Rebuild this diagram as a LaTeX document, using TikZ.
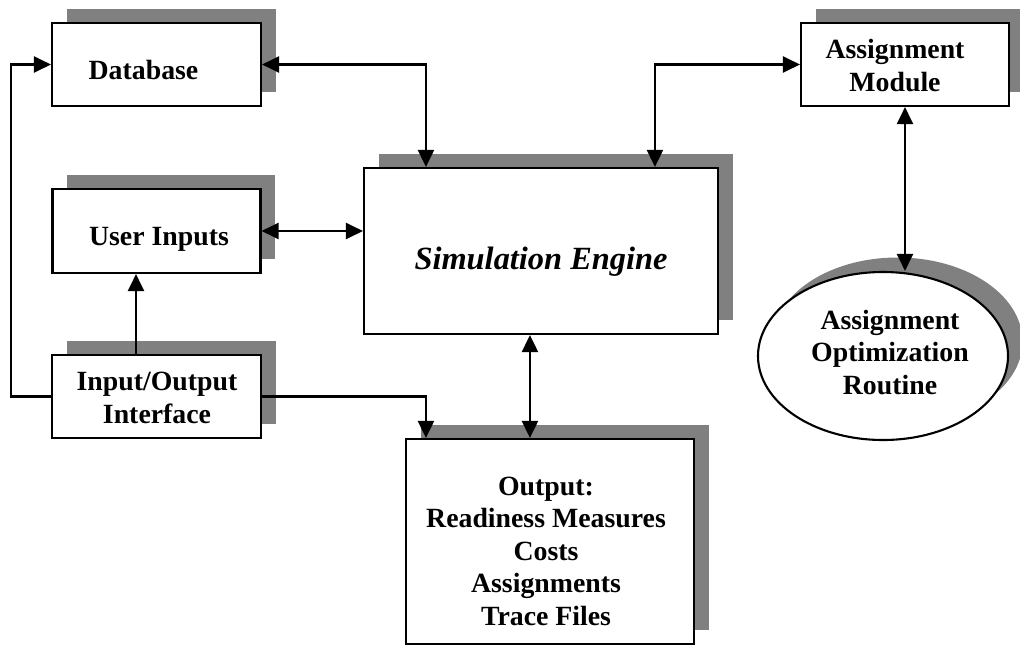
\documentclass[tikz,border=0pt]{standalone}
\usepackage{fontspec}
\setmainfont{Liberation Serif}
\usetikzlibrary{arrows.meta,shadows,shapes.geometric}
\definecolor{shgray}{HTML}{808080}
\begin{document}
\begin{tikzpicture}[x=1pt,y=-1pt,
  shbox/.style={draw=black, line width=2.1pt, fill=white, inner sep=0pt,
    drop shadow={shadow xshift=14.5pt, shadow yshift=14.5pt, fill=shgray, opacity=1, draw=none}},
  shell/.style={shbox, ellipse},
  lbl/.style={anchor=base, align=center, inner sep=0pt, font=\fontsize{27.8}{32.5}\selectfont\bfseries},
  conn/.style={line width=2.1pt},
  arr/.style={conn, -{Triangle[length=17pt,width=16pt]}},
  darr/.style={conn, {Triangle[length=17pt,width=16pt]}-{Triangle[length=17pt,width=16pt]}}]
\useasboundingbox (0,0) rectangle (1020,646);
% boxes
\node[shbox, minimum width=209pt, minimum height=83pt] (db) at (156.5,64.5) {};
\node[shbox, minimum width=208pt, minimum height=84pt] (ui) at (156.5,231) {};
\node[shbox, minimum width=209pt, minimum height=83pt] (io) at (156.5,396.5) {};
\node[shbox, minimum width=354pt, minimum height=166pt] (sim) at (541,251) {};
\node[shbox, minimum width=208pt, minimum height=83pt] (am) at (905,64.5) {};
\node[shbox, minimum width=288pt, minimum height=205pt] (out) at (550,541.5) {};
\node[shell, minimum width=250pt, minimum height=168pt] (ell) at (883,356) {};
% texts (base anchor = baseline of the last line)
\node[lbl] (tdb) at (143.5,79) {Database};
\node[lbl] (tui) at (159,245) {User Inputs};
\node[lbl] (tio) at (157,423) {Input/Output\\Interface};
\node[lbl] (tam) at (895,91) {Assignment\\Module};
\node[lbl] (tell) at (890,394) {Assignment\\Optimization\\Routine};
\node[lbl] (tout) at (546,625) {Output:\\Readiness Measures\\Costs\\Assignments\\Trace Files};
\node[lbl, font=\fontsize{32.4}{38}\selectfont\bfseries\itshape] (tsim) at (541,269) {Simulation Engine};
% connectors
\draw[darr] (db.east) -| ([xshift=63pt]sim.north west);
\draw[darr] ([xshift=292pt]sim.north west) |- (am.west);
\draw[darr] (ui.east) -- (ui.east -| sim.west);
\draw[darr] (am.south) -- (am.south |- ell.north);
\draw[darr] ([xshift=167pt]sim.south west) -- ([xshift=167pt]sim.south west |- out.north);
\draw[arr] ([xshift=-20.5pt]io.north) -- ([xshift=-20.5pt]ui.south);
\draw[arr] (io.west) -- ([xshift=-40pt]io.west) |- (db.west);
\draw[arr] (io.east) -| ([xshift=21pt]out.north west);
\end{tikzpicture}
\end{document}
